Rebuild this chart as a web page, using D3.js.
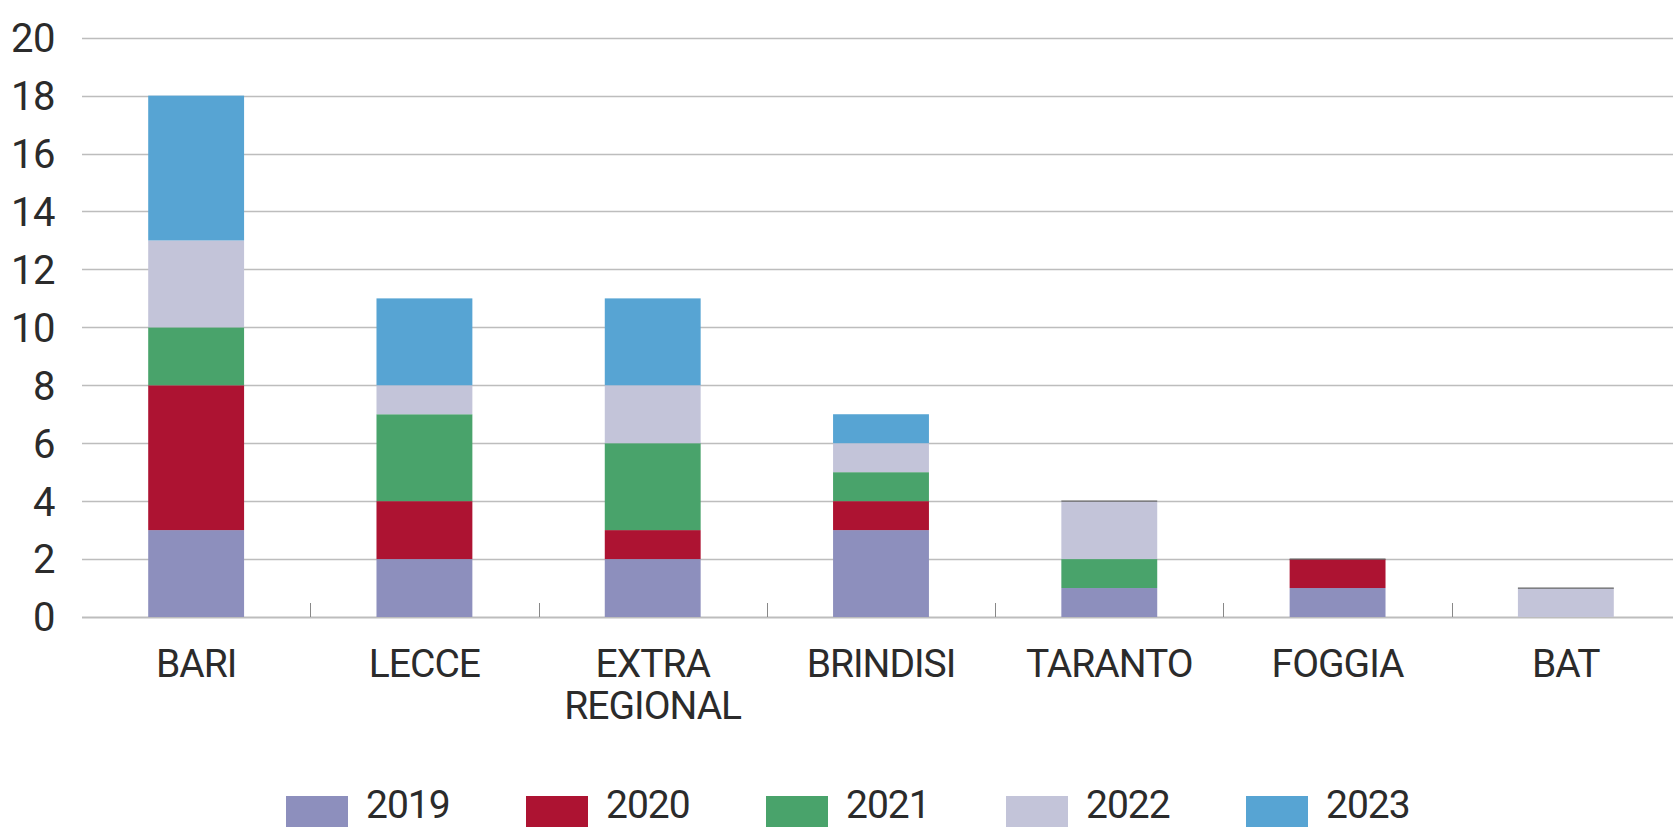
<!DOCTYPE html>
<html>
<head>
<meta charset="utf-8">
<script src="https://cdn.jsdelivr.net/npm/d3@7"></script>
<style>
  html, body { margin: 0; padding: 0; background: #fff; overflow: hidden; }
  svg text { font-family: "Roboto", sans-serif; fill: #2b2b2b; }
</style>
</head>
<body>
<svg id="chart" width="1673" height="827"></svg>
<script>
// categories and series
var provinces = ['BARI', 'LECCE', 'EXTRA REGIONAL', 'BRINDISI', 'TARANTO', 'FOGGIA', 'BAT'];
var years = ['2019', '2020', '2021', '2022', '2023'];
var v2019 = [3, 2, 2, 3, 1, 1, 0];
var v2020 = [5, 2, 1, 1, 0, 1, 0];
var v2021 = [2, 3, 3, 1, 1, 0, 0];
var v2022 = [3, 1, 2, 1, 2, 0, 1];
var v2023 = [5, 3, 3, 1, 0, 0, 0];
var yTicks = [0, 2, 4, 6, 8, 10, 12, 14, 16, 18, 20];
var colours = ['#8d8fbd', '#ad1332', '#49a36b', '#c3c4d9', '#57a4d3'];

var series = [v2019, v2020, v2021, v2022, v2023];
var rows = provinces.map(function(p, i) {
  var r = { name: p };
  years.forEach(function(y, j) { r[y] = series[j][i]; });
  return r;
});

var svg = d3.select('#chart');

var x = d3.scaleBand()
  .domain(provinces)
  .range([82, 1680])
  .paddingInner(0.58)
  .paddingOuter(0.29);

var y = d3.scaleLinear()
  .domain([0, 20])
  .range([617, 37.7]);

var colour = d3.scaleOrdinal().domain(years).range(colours);

// gridlines
svg.append('g')
  .selectAll('line')
  .data(yTicks)
  .join('line')
  .attr('x1', 82)
  .attr('x2', 1673)
  .attr('y1', function(d) { return Math.round(y(d)) + 0.5; })
  .attr('y2', function(d) { return Math.round(y(d)) + 0.5; })
  .attr('stroke', '#bdbdbd')
  .attr('stroke-width', function(d) { return d === 0 ? 2 : 1.3; });

// y labels
svg.append('g')
  .selectAll('text')
  .data(yTicks)
  .join('text')
  .attr('x', 55)
  .attr('y', function(d) { return y(d); })
  .attr('dy', '0.36em')
  .attr('text-anchor', 'end')
  .style('font-size', '40px')
  .style('letter-spacing', '-0.5px')
  .text(function(d) { return d; });

// stacked bars
var stack = d3.stack().keys(years)(rows);

var layers = svg.append('g')
  .selectAll('g')
  .data(stack)
  .join('g')
  .attr('fill', function(d) { return colour(d.key); });

layers.selectAll('rect')
  .data(function(d) { return d; })
  .join('rect')
  .attr('x', function(d) { return x(d.data.name); })
  .attr('width', x.bandwidth())
  .attr('y', function(d) { return y(d[1]); })
  .attr('height', function(d) { return y(d[0]) - y(d[1]); });

// the empty 2023 segments show as a thin dark line on top of the stack
var last = stack[stack.length - 1];
svg.append('g')
  .selectAll('line')
  .data(last.filter(function(d) { return d[1] - d[0] === 0; }))
  .join('line')
  .attr('x1', function(d) { return x(d.data.name); })
  .attr('x2', function(d) { return x(d.data.name) + x.bandwidth(); })
  .attr('y1', function(d) { return y(d[1]); })
  .attr('y2', function(d) { return y(d[1]); })
  .attr('stroke', '#666')
  .attr('stroke-width', 1.2);

// small separator ticks between categories
svg.append('g')
  .selectAll('line')
  .data(provinces.slice(1))
  .join('line')
  .attr('x1', function(d) { return Math.round(x(d) - x.step() * 0.29) + 0.5; })
  .attr('x2', function(d) { return Math.round(x(d) - x.step() * 0.29) + 0.5; })
  .attr('y1', 603)
  .attr('y2', 617)
  .attr('stroke', '#888')
  .attr('stroke-width', 1);

// category labels
var labels = svg.append('g')
  .selectAll('text')
  .data(provinces)
  .join('text')
  .attr('x', function(d) { return x(d) + x.bandwidth() / 2; })
  .attr('y', 677)
  .attr('text-anchor', 'middle')
  .style('font-size', '39px')
  .style('letter-spacing', '-1px');

labels.selectAll('tspan')
  .data(function(d) { return d === 'EXTRA REGIONAL' ? ['EXTRA', 'REGIONAL'] : [d]; })
  .join('tspan')
  .attr('x', function() { return d3.select(this.parentNode).attr('x'); })
  .attr('dy', function(d, i) { return i === 0 ? 0 : 42; })
  .text(function(d) { return d; });

// legend
var legend = svg.append('g')
  .selectAll('g')
  .data(years)
  .join('g')
  .attr('transform', function(d, i) { return 'translate(' + (286 + i * 240) + ',796)'; });

legend.append('rect')
  .attr('width', 62)
  .attr('height', 62)
  .attr('fill', function(d) { return colour(d); });

legend.append('text')
  .attr('x', 80)
  .attr('y', 22)
  .style('font-size', '39px')
  .style('letter-spacing', '-1px')
  .text(function(d) { return d; });
</script>
</body>
</html>
